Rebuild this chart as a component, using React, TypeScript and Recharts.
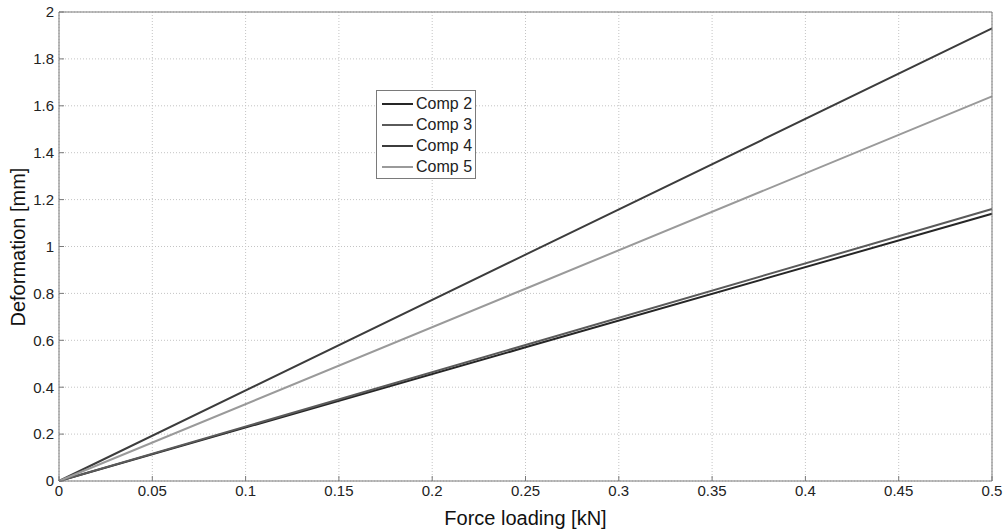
import React from 'react';
import { LineChart, Line, XAxis, YAxis, CartesianGrid, Legend } from 'recharts';

// force loading [kN] and deformation [mm]
const forceKN = [0, 0.25, 0.5];
const comp2 = [0, 0.57, 1.14];
const comp3 = [0, 0.58, 1.16];
const comp4 = [0, 0.965, 1.93];
const comp5 = [0, 0.82, 1.64];

const xTicks = [0, 0.05, 0.1, 0.15, 0.2, 0.25, 0.3, 0.35, 0.4, 0.45, 0.5];
const yTicks = [0, 0.2, 0.4, 0.6, 0.8, 1, 1.2, 1.4, 1.6, 1.8, 2];

const series = [
  { key: 'comp2', name: 'Comp 2', color: '#262626' },
  { key: 'comp3', name: 'Comp 3', color: '#5a5a5a' },
  { key: 'comp4', name: 'Comp 4', color: '#3c3c3c' },
  { key: 'comp5', name: 'Comp 5', color: '#9a9a9a' },
];

const data = forceKN.map((f, i) => ({
  force: f,
  comp2: comp2[i],
  comp3: comp3[i],
  comp4: comp4[i],
  comp5: comp5[i],
}));

const fmt = (v: number) => String(Number(v.toFixed(2)));
const font = 'Arial, "Liberation Sans", Helvetica, sans-serif';
const axisGray = '#7a7a7a';

function LegendBox() {
  return (
    <div
      style={{
        width: 100,
        height: 89,
        border: '1px solid #7a7a7a',
        background: '#fff',
        fontFamily: font,
        fontSize: 16,
        color: '#222',
        boxSizing: 'border-box',
        paddingTop: 2,
      }}
    >
      {series.map((s) => (
        <div key={s.key} style={{ display: 'flex', alignItems: 'center', height: 21 }}>
          <div style={{ width: 31, height: 2, background: s.color, marginLeft: 5, marginRight: 3 }} />
          <span>{s.name}</span>
        </div>
      ))}
    </div>
  );
}

export default function App() {
  return (
    <div style={{ position: 'absolute', left: 0, top: 0, width: 1006, height: 529, background: '#fff' }}>
      <LineChart width={1006} height={529} data={data} margin={{ top: 11, right: 13, bottom: 0, left: 0 }}>
        <CartesianGrid stroke="#c4c4c4" strokeDasharray="1 2" />
        <XAxis
          dataKey="force"
          type="number"
          domain={[0, 0.5]}
          ticks={xTicks}
          tickFormatter={fmt}
          stroke={axisGray}
          tickSize={-5}
          tickMargin={9}
          height={48}
          tick={{ fill: '#222', fontSize: 15, fontFamily: font }}
          label={{ value: 'Force loading [kN]', position: 'insideBottom', offset: 4, fill: '#111', fontSize: 20, fontFamily: font }}
        />
        <XAxis
          xAxisId="top"
          orientation="top"
          dataKey="force"
          type="number"
          domain={[0, 0.5]}
          ticks={xTicks}
          stroke={axisGray}
          tickSize={-5}
          tick={false}
          height={1}
        />
        <YAxis
          type="number"
          domain={[0, 2]}
          ticks={yTicks}
          tickFormatter={fmt}
          stroke={axisGray}
          tickSize={-5}
          tickMargin={10}
          width={59}
          tick={{ fill: '#222', fontSize: 15, fontFamily: font }}
          label={{ value: 'Deformation [mm]', angle: -90, position: 'insideLeft', offset: 18, dy: 80, fill: '#111', fontSize: 20, fontFamily: font }}
        />
        <YAxis
          yAxisId="right"
          orientation="right"
          type="number"
          domain={[0, 2]}
          ticks={yTicks}
          stroke={axisGray}
          tickSize={-5}
          tick={false}
          width={1}
        />
        <Legend
          layout="vertical"
          verticalAlign="middle"
          align="center"
          wrapperStyle={{ left: 376, top: 90, width: 100 }}
          content={() => <LegendBox />}
        />
        {series.map((s) => (
          <Line
            key={s.key}
            type="linear"
            dataKey={s.key}
            name={s.name}
            stroke={s.color}
            strokeWidth={2}
            dot={false}
            isAnimationActive={false}
          />
        ))}
      </LineChart>
    </div>
  );
}
